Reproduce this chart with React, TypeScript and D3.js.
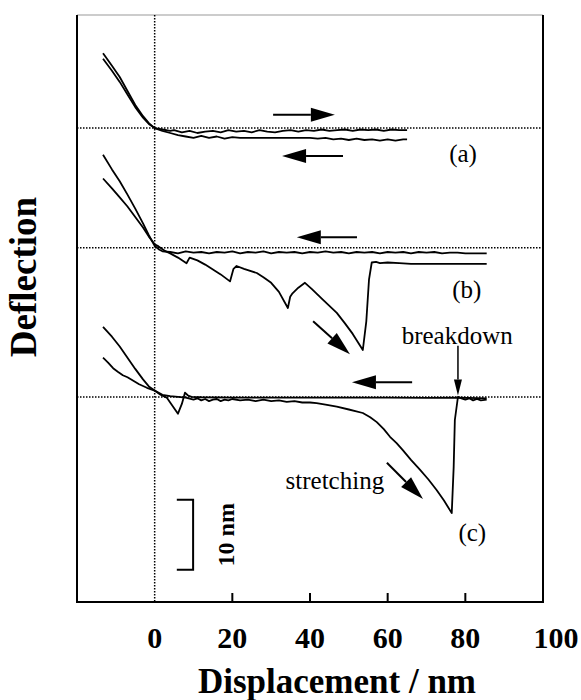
import React from "react";
import * as d3 from "d3";

// ---------- data (x: displacement nm, d: deflection nm relative to curve baseline) ----------
const approachA: [number, number][] = [
  [-13.3, 10.7], [-11, 8.9], [-9, 7.3], [-7, 5.3], [-5, 3.3], [-3, 1.7], [-1.5, 0.7], [0, 0],
  [2, -0.2], [4, -0.4], [5, -0.3], [7, -0.6], [9, -0.4], [11, -0.7], [13, -0.5], [15, -0.4],
  [17, -0.6], [19, -0.3], [21, -0.5], [23, -0.4], [25, -0.6], [27, -0.3], [29, -0.5], [31, -0.6],
  [33, -0.4], [35, -0.3], [37, -0.5], [39, -0.3], [41, -0.4], [43, -0.2], [45, -0.4], [47, -0.3],
  [49, -0.2], [51, -0.4], [53, -0.2], [55, -0.3], [57, -0.2], [59, -0.4], [61, -0.2], [63, -0.3], [65, -0.3],
];
const retractA: [number, number][] = [
  [-13.3, 9.9], [-11, 8.2], [-9, 6.6], [-7, 4.8], [-5, 3.0], [-3, 1.5], [-1.5, 0.6], [0, 0],
  [2, -0.4], [4, -0.7], [6, -1.0], [8, -1.2], [10, -1.4], [12, -1.1], [14, -1.4], [16, -1.2],
  [18, -1.5], [20, -1.3], [22, -1.4], [25, -1.4], [30, -1.4], [35, -1.4], [40, -1.4], [42, -1.5],
  [44, -1.4], [46, -1.6], [48, -1.5], [50, -1.7], [52, -1.5], [54, -1.7], [56, -1.6], [58, -1.8],
  [60, -1.6], [62, -1.8], [64, -1.6], [65, -1.6],
];
const approachB: [number, number][] = [
  [-13.3, 13.3], [-11, 11.2], [-9, 9.5], [-7, 7.6], [-5, 5.6], [-3, 3.5], [-1.5, 1.8], [0, 0.3],
  [1, -0.2], [2, -0.5], [4, -0.6], [6, -0.8], [8, -0.5], [10, -0.7], [12, -0.6], [14, -0.8],
  [16, -0.6], [18, -0.7], [20, -0.5], [22, -0.8], [24, -0.6], [26, -0.7], [28, -0.5], [30, -0.8],
  [32, -0.6], [34, -0.7], [36, -0.6], [38, -0.8], [40, -0.6], [42, -0.7], [44, -0.5], [46, -0.7],
  [48, -0.6], [50, -0.8], [52, -0.6], [54, -0.7], [56, -0.6], [58, -0.8], [60, -0.6], [62, -0.7],
  [64, -0.6], [66, -0.8], [68, -0.6], [70, -0.7], [72, -0.6], [74, -0.8], [76, -0.7], [78, -0.7],
  [80, -0.8], [82, -0.8], [85.5, -0.8],
];
const retractB: [number, number][] = [
  [-13.3, 9.9], [-11, 8.5], [-9, 7.2], [-7, 5.9], [-5, 4.4], [-3, 2.9], [-1.5, 1.6], [0, 0.5],
  [1, 0.2], [2.5, -0.4], [4, -0.8], [6, -1.4], [8.2, -2.2], [9, -1.4], [11, -1.8], [13, -2.4],
  [15, -3.1], [17, -3.8], [19.4, -4.8], [20.3, -3.0], [21.1, -2.6], [23, -3.0], [26.3, -3.6],
  [28, -4.2], [30, -5.0], [32, -6.3], [34.3, -8.6], [34.9, -7.0], [35.5, -6.5], [37, -5.7],
  [38.7, -5.0], [40.5, -5.9], [43.3, -7.4], [46.9, -9.3], [49, -10.8], [51, -12.3], [53.6, -14.6],
  [54.5, -10.5], [55.2, -4.5], [55.9, -2.1], [57, -2.0], [58, -2.2], [60, -2.1], [63, -2.2],
  [66, -2.3], [70, -2.3], [75, -2.3], [80, -2.3], [85.5, -2.3],
];
const approachC: [number, number][] = [
  [-13.3, 10], [-11, 8.6], [-9, 7.2], [-7, 5.6], [-5, 4.0], [-3, 2.5], [-1.5, 1.5], [0, 0.9],
  [1.5, 0.3], [3.1, -0.1], [6, -2.4], [7, -1.0], [7.8, 0.6], [8.6, 0.2], [9.5, 0], [12, -0.05],
  [20, -0.1], [30, -0.1], [40, -0.1], [50, -0.1], [60, -0.1], [70, -0.15], [78, -0.1], [85.5, -0.2],
];
const retractC: [number, number][] = [
  [-13.3, 5.6], [-12, 4.9], [-10.7, 4.1], [-9.5, 3.6], [-8.2, 3.1], [-7, 2.8], [-5.5, 2.3],
  [-4, 1.8], [-2, 1.3], [0, 0.9], [2, 0.3], [4, 0.1], [6, 0.0], [8, -0.1], [10, -0.4], [11, -0.2],
  [12, -0.5], [13, -0.3], [14, -0.6], [15, -0.4], [16, -0.3], [17, -0.6], [18, -0.4], [19, -0.5],
  [20, -0.3], [22, -0.5], [24, -0.4], [26, -0.6], [28, -0.4], [30, -0.6], [32, -0.5], [34, -0.7],
  [36, -0.6], [38, -0.8], [40, -0.8], [41.7, -0.9], [44, -1.1], [46.9, -1.4], [50, -1.8],
  [53.6, -2.3], [55.5, -2.9], [57.2, -3.6], [59, -4.6], [60.6, -5.7], [62.3, -6.6], [63.9, -7.6],
  [66, -9.0], [68.3, -10.4], [70.5, -11.8], [72.6, -13.3], [74.5, -14.8], [76.5, -16.6],
  [77, -10], [77.3, -3.3], [78.1, 0], [79, -0.2], [80, -0.4], [81, -0.2], [82, -0.5], [83, -0.3],
  [84, -0.5], [85.5, -0.4],
];

const curveNames = ["a", "b", "c"];
const baselines = [67.7, 50.6, 29.3]; // nm offsets of each curve's zero line
const curveSets = [[approachA, retractA], [approachB, retractB], [approachC, retractC]];

const xTicks = [0, 20, 40, 60, 80, 100];
const xLabel = "Displacement / nm";
const yLabel = "Deflection";

// arrows: [x1, v1, x2, v2] in (nm, nm) plot units
const bigArrows: [number, number, number, number][] = [
  [30.5, 69.6, 46.4, 69.6],
  [48.5, 63.7, 32.8, 63.7],
  [52.1, 52.1, 36.6, 52.1],
  [40.8, 40.1, 50.3, 35.4],
  [66.3, 31.4, 50.8, 31.4],
  [59.8, 19.9, 69.1, 14.7],
];
const breakdownArrow: [number, number, number, number] = [78.1, 36.6, 78.1, 29.5];
const annotations: { text: string; x: number; v: number }[] = [
  { text: "(a)", x: 79.4, v: 64.1 },
  { text: "(b)", x: 80.4, v: 44.6 },
  { text: "(c)", x: 81.8, v: 9.9 },
  { text: "breakdown", x: 77.9, v: 38.1 },
  { text: "stretching", x: 46.4, v: 17.4 },
];
const scaleBar = { x1: 5.7, x2: 9.9, v1: 4.6, v2: 14.6, label: "10 nm", labelX: 18.4 };

// ---------- layout ----------
const W = 581;
const H = 700;
const L = 77, R = 543, T = 15, B = 602;
const serif = "'Liberation Serif', 'Times New Roman', Times, serif";

export default function App() {
  const x = d3.scaleLinear().domain([-20, 100]).range([L, R]);
  const y = d3.scaleLinear().domain([0, 84]).range([B, 14]);

  const arrowPath = (a: number[], headLen = 24, headW = 7) => {
    const [x1, y1, x2, y2] = [x(a[0]), y(a[1]), x(a[2]), y(a[3])];
    const ang = Math.atan2(y2 - y1, x2 - x1);
    const bx = x2 - headLen * Math.cos(ang);
    const by = y2 - headLen * Math.sin(ang);
    const px = -Math.sin(ang) * headW, py = Math.cos(ang) * headW;
    return {
      shaft: `M${x1},${y1}L${bx},${by}`,
      head: `M${x2},${y2}L${bx + px},${by + py}L${bx - px},${by - py}Z`,
    };
  };

  const bd = arrowPath(breakdownArrow, 16, 4);

  return (
    <svg width={W} height={H} style={{ display: "block", position: "absolute", left: 0, top: 0 }}>
      <rect x={0} y={0} width={W} height={H} fill="#fff" />
      {/* frame */}
      <line x1={L} y1={T} x2={R} y2={T} stroke="#999" strokeWidth={1} />
      <path d={`M${L},${T}V${B}H${R}V${T}`} fill="none" stroke="#000" strokeWidth={2} />
      {/* ticks */}
      {xTicks.filter((t) => t > 0 && t < 100).map((t) => (
        <line key={t} x1={x(t)} x2={x(t)} y1={B} y2={B - 9} stroke="#000" strokeWidth={2} />
      ))}
      {/* dotted reference lines */}
      <line x1={x(0)} x2={x(0)} y1={T} y2={B} stroke="#000" strokeWidth={1.5} strokeDasharray="1.5,1.5" />
      {baselines.map((b, i) => (
        <line key={i} x1={L} x2={R} y1={y(b)} y2={y(b)} stroke="#000" strokeWidth={1.5} strokeDasharray="1.5,1.5" />
      ))}
      {/* curves */}
      {curveSets.map((set, i) =>
        set.map((data, j) => {
          const line = d3.line<[number, number]>().x((p) => x(p[0])).y((p) => y(p[1] + baselines[i]));
          return (
            <path key={curveNames[i] + j} d={line(data) || ""} fill="none" stroke="#000"
              strokeWidth={1.8} strokeLinejoin="round" />
          );
        })
      )}
      {/* arrows */}
      {bigArrows.map((a, i) => {
        const p = arrowPath(a);
        return (
          <g key={i}>
            <path d={p.shaft} stroke="#000" strokeWidth={2} />
            <path d={p.head} fill="#000" />
          </g>
        );
      })}
      <path d={bd.shaft} stroke="#000" strokeWidth={1.5} />
      <path d={bd.head} fill="#000" />
      {/* annotations */}
      {annotations.map((a) => (
        <text key={a.text} x={x(a.x)} y={y(a.v)} fontFamily={serif} fontSize={25}
          textAnchor="middle" dominantBaseline="central">{a.text}</text>
      ))}
      {/* scale bar */}
      <path d={`M${x(scaleBar.x1)},${y(scaleBar.v2)}H${x(scaleBar.x2)}V${y(scaleBar.v1)}H${x(scaleBar.x1)}`}
        fill="none" stroke="#000" strokeWidth={2} />
      <text transform={`translate(${x(scaleBar.labelX)},${y((scaleBar.v1 + scaleBar.v2) / 2)}) rotate(-90)`}
        fontFamily={serif} fontSize={24} fontWeight="bold" textAnchor="middle" dominantBaseline="central">
        {scaleBar.label}
      </text>
      {/* tick labels */}
      {xTicks.map((t, i) => (
        <text key={t} x={x(t) + (i === xTicks.length - 1 ? 13 : 0)} y={648} fontFamily={serif}
          fontSize={30} fontWeight="bold" textAnchor="middle">{t}</text>
      ))}
      {/* axis titles */}
      <text x={337} y={693} fontFamily={serif} fontSize={35} fontWeight="bold" textAnchor="middle">{xLabel}</text>
      <text transform={`translate(36,277) rotate(-90)`} fontFamily={serif} fontSize={37}
        fontWeight="bold" textAnchor="middle">{yLabel}</text>
    </svg>
  );
}
